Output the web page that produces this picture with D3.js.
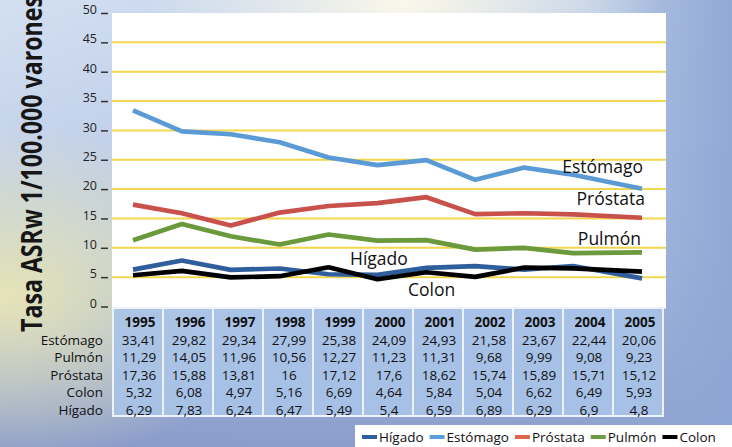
<!DOCTYPE html>
<html>
<head>
<meta charset="utf-8">
<script src="https://cdn.jsdelivr.net/npm/d3@7"></script>
<style>
  html, body { margin: 0; padding: 0; background: #fff; }
  svg { display: block; font-family: "Open Sans", "DejaVu Sans", sans-serif; }
</style>
</head>
<body>
<svg id="chart" width="732" height="447"></svg>
<script>
// --- data ---
const years = [1995, 1996, 1997, 1998, 1999, 2000, 2001, 2002, 2003, 2004, 2005];
const estomago = [33.41, 29.82, 29.34, 27.99, 25.38, 24.09, 24.93, 21.58, 23.67, 22.44, 20.06];
const pulmon   = [11.29, 14.05, 11.96, 10.56, 12.27, 11.23, 11.31, 9.68, 9.99, 9.08, 9.23];
const prostata = [17.36, 15.88, 13.81, 16, 17.12, 17.6, 18.62, 15.74, 15.89, 15.71, 15.12];
const colon    = [5.32, 6.08, 4.97, 5.16, 6.69, 4.64, 5.84, 5.04, 6.62, 6.49, 5.93];
const higado   = [6.29, 7.83, 6.24, 6.47, 5.49, 5.4, 6.59, 6.89, 6.29, 6.9, 4.8];
const yTicks = [0, 5, 10, 15, 20, 25, 30, 35, 40, 45, 50];

// table rows (order as printed) and legend order
const tableRows = [
  {name: "Estómago", values: estomago},
  {name: "Pulmón", values: pulmon},
  {name: "Próstata", values: prostata},
  {name: "Colon", values: colon},
  {name: "Hígado", values: higado}
];
const legendOrder = ["Hígado", "Estómago", "Próstata", "Pulmón", "Colon"];

const colors = {
  "Hígado": "#2f5e9c",
  "Estómago": "#5b9bd5",
  "Próstata": "#c9514b",
  "Pulmón": "#6b9a3d",
  "Colon": "#000000"
};
const legendColors = {
  "Hígado": "#2f5e9c",
  "Estómago": "#5aa0dc",
  "Próstata": "#e0664a",
  "Pulmón": "#6e9a40",
  "Colon": "#000000"
};

const svg = d3.select("#chart");
const W = 732, H = 447;

// --- background ---
const defs = svg.append("defs");
const bg = defs.append("linearGradient").attr("id", "bgv").attr("x1", 0).attr("y1", 0).attr("x2", 0).attr("y2", 1);
bg.append("stop").attr("offset", "0%").attr("stop-color", "#d3e0f2");
bg.append("stop").attr("offset", "55%").attr("stop-color", "#bccbe6");
bg.append("stop").attr("offset", "100%").attr("stop-color", "#8a9bca");

const bgr = defs.append("linearGradient").attr("id", "bgh").attr("x1", 0).attr("y1", 0).attr("x2", 1).attr("y2", 0);
bgr.append("stop").attr("offset", "0%").attr("stop-color", "#8fa6d4").attr("stop-opacity", 0);
bgr.append("stop").attr("offset", "80%").attr("stop-color", "#8fa6d4").attr("stop-opacity", 0.35);
bgr.append("stop").attr("offset", "100%").attr("stop-color", "#8ea6d4").attr("stop-opacity", 0.95);

const glowY = defs.append("radialGradient").attr("id", "glowY")
  .attr("cx", 0).attr("cy", 0.66).attr("r", 0.38).attr("gradientUnits", "objectBoundingBox");
glowY.append("stop").attr("offset", "0%").attr("stop-color", "#e6e4b6").attr("stop-opacity", 1);
glowY.append("stop").attr("offset", "100%").attr("stop-color", "#e6e4b6").attr("stop-opacity", 0);

const glowW = defs.append("radialGradient").attr("id", "glowW")
  .attr("cx", 0.55).attr("cy", 0).attr("r", 0.35);
glowW.append("stop").attr("offset", "0%").attr("stop-color", "#fbf8ea").attr("stop-opacity", 1);
glowW.append("stop").attr("offset", "100%").attr("stop-color", "#fbf8ea").attr("stop-opacity", 0);

svg.append("rect").attr("width", W).attr("height", H).attr("fill", "url(#bgv)");
svg.append("rect").attr("width", W).attr("height", H).attr("fill", "url(#bgh)");
svg.append("rect").attr("width", W).attr("height", H).attr("fill", "url(#glowY)");
svg.append("rect").attr("width", W).attr("height", H).attr("fill", "url(#glowW)");

// --- scales ---
const y = d3.scaleLinear().domain([0, 50]).range([306.5, 13]);
// point positions of the plotted lines (last step is wider in the original)
const x = d3.scaleLinear().domain([1995, 2004, 2005]).range([133, 573, 642]);
const col = d3.scaleBand().domain(years).range([113, 663]);

const plotLeft = 112, plotRight = 666;

// plot area
svg.append("rect")
  .attr("x", plotLeft).attr("y", y(50))
  .attr("width", plotRight - plotLeft).attr("height", y(0) - y(50) + 2)
  .attr("fill", "#ffffff");

// gridlines
svg.append("g").selectAll("line")
  .data(yTicks.filter(d => d > 0 && d < 50))
  .join("line")
  .attr("x1", plotLeft).attr("x2", plotRight)
  .attr("y1", d => y(d)).attr("y2", d => y(d))
  .attr("stroke", "#f3d64e").attr("stroke-width", 2);

// y axis
const yAxis = svg.append("g")
  .attr("transform", "translate(108,0)")
  .call(d3.axisLeft(y).tickValues(yTicks).tickSize(7).tickPadding(4));
yAxis.select(".domain").remove();
yAxis.selectAll(".tick line").attr("stroke", "#333").attr("stroke-width", 1.5);
yAxis.selectAll(".tick text")
  .attr("dy", "0.05em")
  .attr("font-family", "'Open Sans', sans-serif")
  .attr("font-size", 12.5)
  .attr("fill", "#222");

// y axis title (runs off the top edge, as in the original)
svg.append("text")
  .attr("transform", "translate(42,332) rotate(-90)")
  .attr("font-size", 29)
  .attr("font-weight", 700)
  .attr("fill", "#161616")
  .attr("textLength", 336)
  .attr("lengthAdjust", "spacingAndGlyphs")
  .text("Tasa ASRw 1/100.000 varones");

// --- lines ---
const line = d3.line().x((d, i) => x(years[i])).y(d => y(d));
const drawOrder = ["Estómago", "Próstata", "Pulmón", "Hígado", "Colon"];
const byName = Object.fromEntries(tableRows.map(r => [r.name, r.values]));
svg.append("g").selectAll("path")
  .data(drawOrder)
  .join("path")
  .attr("d", d => line(byName[d]))
  .attr("fill", "none")
  .attr("stroke", d => colors[d])
  .attr("stroke-width", 4.7)
  .attr("stroke-linejoin", "round");

// series labels
const labelSpots = [
  {name: "Estómago", x: 643, y: 173, anchor: "end"},
  {name: "Próstata", x: 645, y: 205, anchor: "end"},
  {name: "Pulmón", x: 641, y: 245, anchor: "end"},
  {name: "Hígado", x: 350, y: 265, anchor: "start"},
  {name: "Colon", x: 408, y: 296, anchor: "start"}
];
svg.append("g").selectAll("text")
  .data(labelSpots)
  .join("text")
  .attr("x", d => d.x).attr("y", d => d.y)
  .attr("text-anchor", d => d.anchor)
  .attr("font-size", 17.5)
  .attr("fill", "#111")
  .text(d => d.name);

// --- data table ---
const tableTop = 308, tableBottom = 416;
svg.append("g").selectAll("rect")
  .data(years)
  .join("rect")
  .attr("x", d => col(d)).attr("y", tableTop)
  .attr("width", col.bandwidth()).attr("height", tableBottom - tableTop)
  .attr("fill", "#a9c3e8").attr("fill-opacity", 0.9)
  .attr("stroke", "#eef3fb").attr("stroke-width", 2);

svg.append("g").selectAll("text")
  .data(years)
  .join("text")
  .attr("x", d => col(d) + col.bandwidth() / 2 + 2)
  .attr("y", 327)
  .attr("text-anchor", "middle")
  .attr("font-size", 13.5)
  .attr("font-weight", 700)
  .attr("fill", "#111")
  .text(d => d);

const rowY = d3.scalePoint().domain(tableRows.map(r => r.name)).range([344.5, 414.5]);
const rows = svg.append("g").selectAll("g")
  .data(tableRows)
  .join("g");
rows.append("text")
  .attr("x", 103).attr("y", d => rowY(d.name))
  .attr("text-anchor", "end")
  .attr("font-size", 13.5)
  .attr("fill", "#111")
  .text(d => d.name);
rows.selectAll(".v")
  .data(d => d.values.map((v, i) => ({v, year: years[i], row: d.name})))
  .join("text")
  .attr("class", "v")
  .attr("x", d => col(d.year) + col.bandwidth() / 2 + 1)
  .attr("y", d => rowY(d.row))
  .attr("text-anchor", "middle")
  .attr("font-size", 13.5)
  .attr("fill", "#111")
  .text(d => String(d.v).replace(".", ","));

// --- legend ---
svg.append("rect")
  .attr("x", 355).attr("y", 425).attr("width", W - 355).attr("height", H - 425)
  .attr("fill", "#ffffff");

const legend = svg.append("g");
let lx = 362;
legendOrder.forEach(name => {
  legend.append("rect")
    .attr("x", lx).attr("y", 435).attr("width", 15).attr("height", 4)
    .attr("fill", legendColors[name]);
  const t = legend.append("text")
    .attr("x", lx + 17).attr("y", 442)
    .attr("font-size", 13.5)
    .attr("fill", "#111")
    .text(name);
  lx += 17 + t.node().getComputedTextLength() + 6;
});
</script>
</body>
</html>
